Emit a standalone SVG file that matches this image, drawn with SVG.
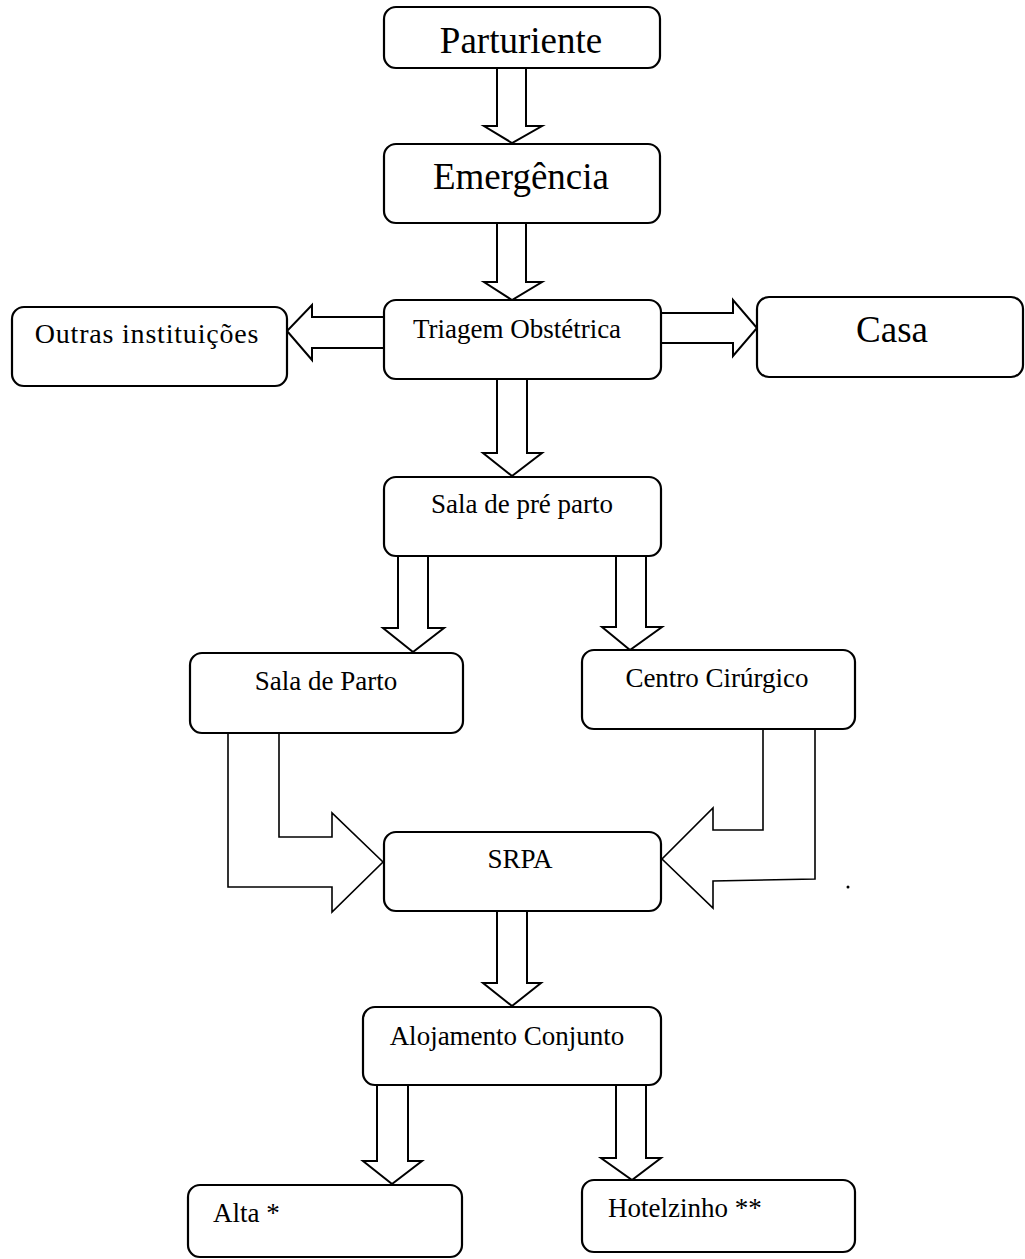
<svg xmlns="http://www.w3.org/2000/svg" width="1025" height="1259" viewBox="0 0 1025 1259">
<style>
.box{fill:#fff;stroke:#000;stroke-width:2.2}
.arr{fill:#fff;stroke:#000;stroke-width:2;stroke-linejoin:miter}
.thin{fill:#fff;stroke:#000;stroke-width:1.6;stroke-linejoin:miter}
.big{font-family:"Liberation Serif","Times New Roman",serif;font-size:37px;fill:#000;text-anchor:middle}
.lbl{font-family:"Liberation Serif","Times New Roman",serif;font-size:27px;fill:#000;text-anchor:middle}
.lft{font-family:"Liberation Serif","Times New Roman",serif;font-size:27px;fill:#000}
</style>
<rect width="1025" height="1259" fill="#fff"/>
<g id="connectors">
<polyline class="arr" points="497,68 497,126 484,126 512,143 542,126 526,126 526,68"/>
<polyline class="arr" points="497,223 497,282 484,282 512,300 542,282 526,282 526,223"/>
<polyline class="arr" points="385,317 312,317 312,305 287,331 312,360 312,348 385,348"/>
<polyline class="arr" points="660,313 733,313 733,300 757,328 733,356 733,343 660,343"/>
<polyline class="arr" points="497,379 497,453 483,453 512,476 542,453 527,453 527,379"/>
<polyline class="arr" points="398,556 398,628 383,628 413,652 444,628 428,628 428,556"/>
<polyline class="arr" points="616,556 616,627 602,627 630,650 662,627 646,627 646,556"/>
<polyline class="thin" points="228,733 228,887 332,887 332,912 383,862 332,813 332,837 279,837 279,733"/>
<polyline class="thin" points="763,728 763,830 713,830 713,808 662,859 713,908 713,881 815,879 815,728"/>
<polyline class="arr" points="497,911 497,983 483,983 512,1006 541,983 527,983 527,911"/>
<polyline class="arr" points="377,1085 377,1161 363,1161 392,1184 422,1161 408,1161 408,1085"/>
<polyline class="arr" points="616,1085 616,1158 601,1158 632,1180 661,1158 646,1158 646,1085"/>
<circle cx="848" cy="887" r="1.5" fill="#000"/>
</g>
<g id="parturiente"><rect class="box" x="384" y="7" width="276" height="61" rx="12"/><text class="big" x="521" y="53">Parturiente</text></g>
<g id="emergencia"><rect class="box" x="384" y="144" width="276" height="79" rx="12"/><text class="big" x="521" y="189">Emergência</text></g>
<g id="outras"><rect class="box" x="12" y="307" width="275" height="79" rx="12"/><text class="lbl" x="147" y="343" style="font-size:28px;letter-spacing:0.8px">Outras instituições</text></g>
<g id="triagem"><rect class="box" x="384" y="300" width="277" height="79" rx="12"/><text class="lbl" x="517" y="338">Triagem Obstétrica</text></g>
<g id="casa"><rect class="box" x="757" y="297" width="266" height="80" rx="12"/><text class="big" x="892" y="342">Casa</text></g>
<g id="prepartos"><rect class="box" x="384" y="477" width="277" height="79" rx="12"/><text class="lbl" x="522" y="513">Sala de pré parto</text></g>
<g id="salaparto"><rect class="box" x="190" y="653" width="273" height="80" rx="12"/><text class="lbl" x="326" y="690">Sala de Parto</text></g>
<g id="centro"><rect class="box" x="582" y="650" width="273" height="79" rx="12"/><text class="lbl" x="717" y="687">Centro Cirúrgico</text></g>
<g id="srpa"><rect class="box" x="384" y="832" width="277" height="79" rx="12"/><text class="lbl" x="520" y="868">SRPA</text></g>
<g id="alojamento"><rect class="box" x="363" y="1007" width="298" height="78" rx="12"/><text class="lbl" x="507" y="1045">Alojamento Conjunto</text></g>
<g id="alta"><rect class="box" x="188" y="1185" width="274" height="72" rx="12"/><text class="lft" x="213" y="1222">Alta *</text></g>
<g id="hotelzinho"><rect class="box" x="582" y="1180" width="273" height="72" rx="12"/><text class="lft" x="608" y="1217">Hotelzinho **</text></g>
</svg>
